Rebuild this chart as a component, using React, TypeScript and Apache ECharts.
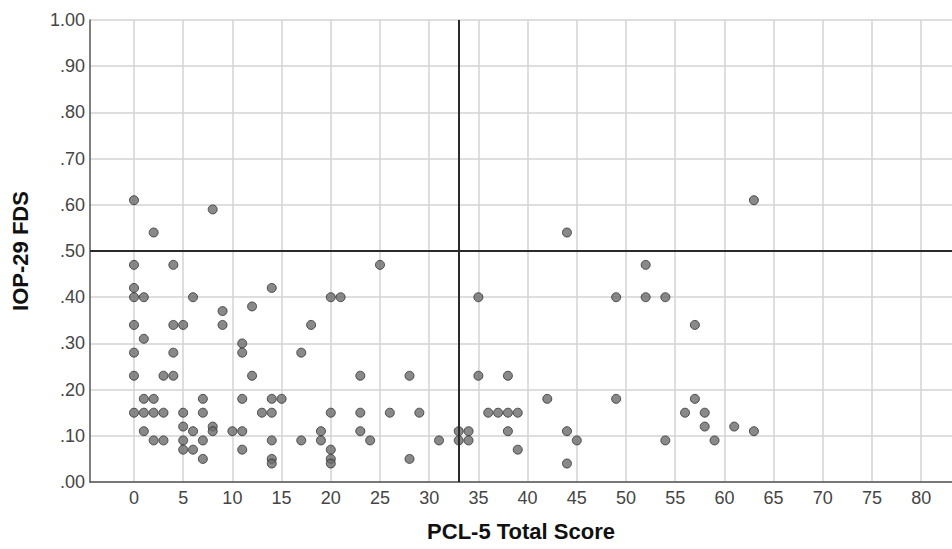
import React, { useEffect, useRef } from "react";
import * as echarts from "echarts";

const pclScores = [
  0, 0, 0, 0, 0, 0, 0, 0,
  1, 1, 1, 1, 1,
  2, 2, 2, 2,
  3, 3, 3,
  4, 4, 4, 4,
  5, 5, 5, 5, 5,
  6, 6, 6,
  7, 7, 7, 7,
  8, 8, 8,
  9, 9,
  10,
  11, 11, 11, 11, 11,
  12, 12,
  13,
  14, 14, 14, 14, 14, 14,
  15,
  17, 17,
  18,
  19, 19,
  20, 20, 20, 20, 20,
  21,
  23, 23, 23,
  24,
  25,
  26,
  28, 28,
  29,
  31,
  33, 33,
  34, 34,
  35, 35,
  36,
  37,
  38, 38, 38,
  39, 39,
  42,
  44, 44, 44,
  45,
  49, 49,
  52, 52,
  54, 54,
  56,
  57, 57,
  58, 58,
  59,
  61,
  63, 63,
];

const iopFds = [
  0.61, 0.47, 0.42, 0.4, 0.34, 0.28, 0.23, 0.15,
  0.4, 0.31, 0.18, 0.15, 0.11,
  0.54, 0.18, 0.15, 0.09,
  0.23, 0.15, 0.09,
  0.47, 0.34, 0.28, 0.23,
  0.34, 0.15, 0.12, 0.09, 0.07,
  0.4, 0.11, 0.07,
  0.18, 0.15, 0.09, 0.05,
  0.59, 0.12, 0.11,
  0.37, 0.34,
  0.11,
  0.3, 0.28, 0.18, 0.11, 0.07,
  0.38, 0.23,
  0.15,
  0.42, 0.18, 0.15, 0.09, 0.05, 0.04,
  0.18,
  0.28, 0.09,
  0.34,
  0.11, 0.09,
  0.4, 0.15, 0.07, 0.05, 0.04,
  0.4,
  0.23, 0.15, 0.11,
  0.09,
  0.47,
  0.15,
  0.23, 0.05,
  0.15,
  0.09,
  0.11, 0.09,
  0.11, 0.09,
  0.4, 0.23,
  0.15,
  0.15,
  0.23, 0.15, 0.11,
  0.15, 0.07,
  0.18,
  0.54, 0.11, 0.04,
  0.09,
  0.4, 0.18,
  0.47, 0.4,
  0.4, 0.09,
  0.15,
  0.34, 0.18,
  0.15, 0.12,
  0.09,
  0.12,
  0.61, 0.11,
];

const xTicks = [0, 5, 10, 15, 20, 25, 30, 35, 40, 45, 50, 55, 60, 65, 70, 75, 80];
const pclCutoff = 33;
const iopCutoff = 0.5;

const xTitle = "PCL-5 Total Score";
const yTitle = "IOP-29 FDS";

const FONT = "'Liberation Sans', Arial, sans-serif";

export default function App() {
  const ref = useRef<HTMLDivElement>(null);

  useEffect(() => {
    document.body.style.margin = "0";
    if (!ref.current) return;
    const chart = echarts.init(ref.current, undefined, { renderer: "svg" });
    const points = pclScores.map((x, i) => [x, iopFds[i]]);
    chart.setOption({
      animation: false,
      backgroundColor: "#ffffff",
      textStyle: { fontFamily: FONT },
      grid: { left: 90, right: 0, top: 20, bottom: 67, containLabel: false },
      xAxis: {
        type: "value",
        min: -4.47,
        max: 83.13,
        name: xTitle,
        nameLocation: "middle",
        nameGap: 38,
        nameTextStyle: { fontFamily: FONT, fontSize: 22, fontWeight: "bold", color: "#111" },
        axisLine: { show: true, onZero: false, lineStyle: { color: "#555", width: 1.5 } },
        axisTick: { show: false, customValues: xTicks },
        axisLabel: {
          customValues: xTicks,
          margin: 7,
          fontFamily: FONT,
          fontSize: 18,
          color: "#454545",
        },
        splitLine: { show: true, lineStyle: { color: "#d3d3d3", width: 1.5 } },
      },
      yAxis: {
        type: "value",
        min: 0,
        max: 1,
        interval: 0.1,
        name: yTitle,
        nameLocation: "middle",
        nameRotate: 90,
        nameGap: 59,
        nameTextStyle: { fontFamily: FONT, fontSize: 22, fontWeight: "bold", color: "#111" },
        axisLine: { show: true, onZero: false, lineStyle: { color: "#555", width: 1.5 } },
        axisTick: { show: false },
        axisLabel: {
          margin: 5,
          fontFamily: FONT,
          fontSize: 18,
          color: "#454545",
          formatter: (v: number) => v.toFixed(2).replace(/^0/, ""),
        },
        splitLine: { show: true, lineStyle: { color: "#d3d3d3", width: 1.5 } },
      },
      series: [
        {
          type: "scatter",
          data: points,
          symbol: "circle",
          symbolSize: 9,
          itemStyle: { color: "#6b6b6b", borderColor: "#303030", borderWidth: 1 },
          markLine: {
            silent: true,
            symbol: "none",
            label: { show: false },
            lineStyle: { color: "#2a2a2a", width: 2, type: "solid" },
            data: [{ xAxis: pclCutoff }, { yAxis: iopCutoff }],
          },
          z: 3,
        },
      ],
    });
    return () => chart.dispose();
  }, []);

  return <div ref={ref} style={{ width: 952, height: 549 }} />;
}
